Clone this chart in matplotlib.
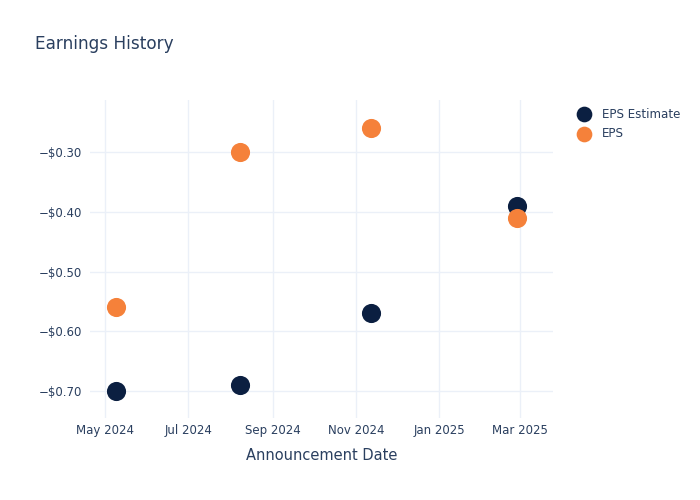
import datetime as dt

import matplotlib.pyplot as plt
import matplotlib.dates as mdates
from matplotlib.ticker import FuncFormatter, FixedLocator

dates = [dt.date(2024, 5, 9), dt.date(2024, 8, 8), dt.date(2024, 11, 12), dt.date(2025, 2, 27)]
eps_estimate = [-0.70, -0.69, -0.57, -0.39]
eps_actual = [-0.56, -0.30, -0.26, -0.41]
y_ticks = [-0.70, -0.60, -0.50, -0.40, -0.30]
x_ticks = [dt.date(2024, 5, 1), dt.date(2024, 7, 1), dt.date(2024, 9, 1),
           dt.date(2024, 11, 1), dt.date(2025, 1, 1), dt.date(2025, 3, 1)]

TEXT = "#2a3f5f"
GRID = "#ebf0f8"
NAVY = "#0b1f41"
ORANGE = "#f5813a"

plt.rcParams["font.family"] = ["DejaVu Sans"]

fig = plt.figure(figsize=(7, 5), dpi=100)
ax = fig.add_axes([0.1286, 0.164, 0.661, 0.636])

ax.scatter(dates, eps_estimate, s=190, color=NAVY, label="EPS Estimate", zorder=3, linewidths=0)
ax.scatter(dates, eps_actual, s=190, color=ORANGE, label="EPS", zorder=4, linewidths=0)

ax.set_xlim(dt.date(2024, 4, 20), dt.date(2025, 3, 25))
ax.set_ylim(-0.745, -0.213)

ax.xaxis.set_major_locator(FixedLocator([mdates.date2num(d) for d in x_ticks]))
ax.xaxis.set_major_formatter(mdates.DateFormatter("%b %Y"))
ax.yaxis.set_major_locator(FixedLocator(y_ticks))
ax.yaxis.set_major_formatter(FuncFormatter(
    lambda v, _: ("\u2212" if v < 0 else "") + f"${abs(v):.2f}"))

for s in ax.spines.values():
    s.set_visible(False)
ax.grid(True, color=GRID, linewidth=1)
ax.set_axisbelow(True)
ax.tick_params(length=0, colors=TEXT, labelsize=8.5)
ax.tick_params(axis="x", pad=4)
ax.tick_params(axis="y", pad=6)

ax.set_xlabel("Announcement Date", color=TEXT, fontsize=10.5, labelpad=8)
fig.text(0.05, 0.912, "Earnings History", color=TEXT, fontsize=12.2, va="center")

leg = ax.legend(loc="upper left", bbox_to_anchor=(1.018, 1.01), frameon=False,
                fontsize=8.6, labelcolor=TEXT, handletextpad=0.5,
                labelspacing=0.55, markerscale=0.82)

fig.savefig("out.png", dpi=100)
